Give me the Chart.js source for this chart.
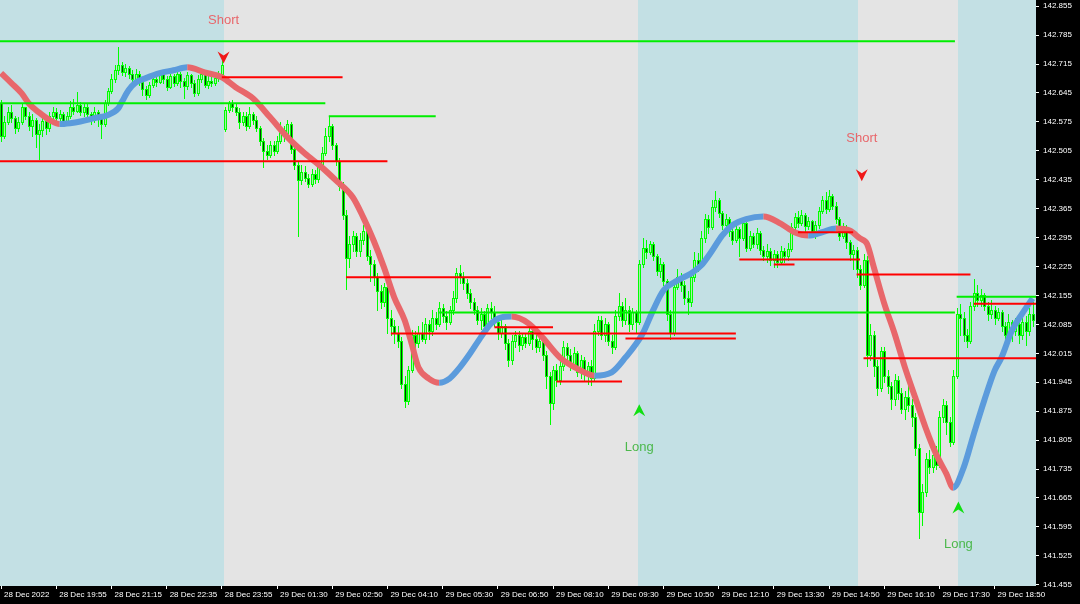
<!DOCTYPE html>
<html>
<head>
<meta charset="utf-8">
<script src="https://cdn.jsdelivr.net/npm/chart.js@4.4.1/dist/chart.umd.min.js"></script>
<style>
  html, body { margin: 0; padding: 0; background: #000; }
  canvas { display: block; }
</style>
</head>
<body>
<canvas id="chart" width="1080" height="604"></canvas>
<script>
// M5 candles, bar 0 = 28 Dec 18:35
const opens = [142.620,142.540,142.575,142.600,142.585,142.560,142.575,142.610,142.590,142.565,142.580,142.545,142.555,142.578,142.560,142.590,142.600,142.585,142.595,142.575,
142.590,142.610,142.602,142.615,142.600,142.612,142.595,142.580,142.600,142.588,142.570,142.620,142.650,142.680,142.700,142.712,142.695,142.705,142.690,142.680,
142.692,142.672,142.655,142.640,142.665,142.680,142.672,142.690,142.678,142.660,142.685,142.670,142.690,142.675,142.662,142.688,142.670,142.645,142.680,142.690,
142.665,142.675,142.668,142.682,142.690,142.558,142.605,142.620,142.612,142.600,142.575,142.590,142.565,142.595,142.580,142.560,142.530,142.505,142.495,142.520,
142.505,142.530,142.555,142.540,142.570,142.510,142.470,142.435,142.455,142.440,142.425,142.450,142.438,142.470,142.500,142.540,142.565,142.520,142.480,142.420,
142.350,142.245,142.280,142.300,142.262,142.290,142.310,142.250,142.230,142.200,142.165,142.140,142.175,142.100,142.080,142.065,142.045,141.940,141.900,141.975,
142.060,142.040,142.065,142.050,142.085,142.070,142.100,142.085,142.125,142.105,142.090,142.120,142.150,142.210,142.200,142.185,142.160,142.140,142.120,142.095,
142.110,142.080,142.125,142.115,142.090,142.065,142.080,142.040,142.000,142.045,142.060,142.035,142.055,142.040,142.070,142.050,142.030,142.045,142.010,141.960,
141.895,141.975,141.950,141.985,142.030,142.010,141.990,142.015,141.970,142.000,141.965,141.985,141.955,142.070,142.095,142.060,142.085,142.045,142.030,142.105,
142.130,142.095,142.120,142.085,142.115,142.090,142.230,142.270,142.260,142.280,142.250,142.215,142.230,142.190,142.110,142.065,142.175,142.200,142.180,142.150,
142.140,142.200,142.240,142.230,142.295,142.340,142.320,142.370,142.385,142.355,142.325,142.340,142.310,142.290,142.315,142.295,142.330,142.270,142.300,142.280,
142.305,142.265,142.250,142.262,142.240,142.255,142.235,142.262,142.250,142.268,142.320,142.345,142.330,142.350,142.322,142.335,142.310,142.325,142.360,142.385,
142.365,142.395,142.372,142.340,142.300,142.320,142.285,142.255,142.265,142.220,142.180,142.240,142.010,142.060,141.985,141.930,142.020,141.960,141.935,141.905,
141.950,141.920,141.880,141.910,141.890,141.860,141.785,141.630,141.680,141.760,141.740,141.770,141.745,141.860,141.890,141.850,141.800,141.960,142.110,142.100,
142.060,142.045,142.130,142.160,142.145,142.155,142.130,142.110,142.120,142.100,142.115,142.080,142.060,142.090,142.070,142.085,142.060,142.090,142.070,142.110];
const highs = [142.628,142.590,142.612,142.615,142.590,142.588,142.620,142.612,142.598,142.595,142.585,142.570,142.590,142.585,142.600,142.612,142.608,142.605,142.600,142.600,
142.625,142.630,142.648,142.622,142.620,142.618,142.600,142.610,142.605,142.595,142.628,142.658,142.690,142.712,142.756,142.720,142.715,142.710,142.700,142.702,
142.698,142.678,142.662,142.672,142.690,142.692,142.700,142.695,142.685,142.692,142.690,142.698,142.695,142.682,142.695,142.692,142.676,142.688,142.698,142.695,
142.685,142.685,142.690,142.698,142.724,142.612,142.626,142.628,142.618,142.608,142.600,142.598,142.612,142.600,142.590,142.565,142.535,142.520,142.530,142.528,
142.540,142.575,142.565,142.580,142.575,142.515,142.480,142.470,142.468,142.450,142.462,142.458,142.480,142.515,142.560,142.590,142.570,142.525,142.488,142.430,
142.362,142.300,142.312,142.305,142.305,142.325,142.315,142.265,142.240,142.210,142.180,142.185,142.180,142.120,142.095,142.080,142.055,141.960,141.985,142.072,
142.070,142.080,142.090,142.100,142.095,142.120,142.115,142.140,142.135,142.118,142.130,142.165,142.222,142.228,142.212,142.195,142.170,142.150,142.130,142.125,
142.118,142.135,142.140,142.130,142.100,142.095,142.085,142.050,142.060,142.070,142.068,142.065,142.062,142.082,142.078,142.060,142.058,142.050,142.020,141.970,
141.985,141.990,142.000,142.045,142.040,142.025,142.030,142.020,142.012,142.005,141.995,141.998,142.085,142.105,142.105,142.100,142.090,142.060,142.120,142.160,
142.140,142.150,142.130,142.125,142.120,142.240,142.295,142.290,142.288,142.285,142.255,142.245,142.235,142.195,142.120,142.185,142.220,142.210,142.190,142.165,
142.210,142.260,142.258,142.310,142.352,142.350,142.385,142.408,142.392,142.360,142.352,142.345,142.320,142.322,142.320,142.340,142.335,142.312,142.305,142.318,
142.310,142.275,142.280,142.270,142.265,142.262,142.275,142.270,142.282,142.330,142.355,142.360,142.362,142.355,142.345,142.338,142.335,142.368,142.395,142.405,
142.410,142.400,142.380,142.345,142.330,142.325,142.290,142.278,142.272,142.228,142.255,142.250,142.085,142.070,142.000,142.030,142.030,141.975,141.945,141.965,
141.960,141.930,141.925,141.935,141.905,141.870,141.795,141.700,141.775,141.780,141.785,141.790,141.875,141.905,141.900,141.860,141.975,142.125,142.135,142.115,
142.075,142.140,142.195,142.180,142.170,142.160,142.140,142.145,142.130,142.125,142.120,142.090,142.110,142.095,142.100,142.092,142.100,142.105,142.125,142.140];
const lows = [142.528,142.535,142.570,142.575,142.548,142.552,142.570,142.582,142.555,142.540,142.515,142.485,142.540,142.545,142.552,142.585,142.578,142.575,142.565,142.570,
142.585,142.595,142.598,142.592,142.590,142.580,142.570,142.575,142.565,142.535,142.565,142.615,142.645,142.672,142.690,142.688,142.685,142.682,142.670,142.675,
142.665,142.640,142.630,142.636,142.660,142.662,142.668,142.670,142.652,142.658,142.662,142.665,142.660,142.632,142.655,142.660,142.638,142.640,142.672,142.660,
142.658,142.662,142.665,142.675,142.685,142.552,142.600,142.602,142.592,142.560,142.568,142.555,142.560,142.570,142.552,142.520,142.465,142.485,142.490,142.495,
142.500,142.525,142.530,142.535,142.500,142.460,142.300,142.425,142.432,142.418,142.420,142.428,142.430,142.462,142.495,142.530,142.510,142.470,142.410,142.340,
142.170,142.225,142.262,142.250,142.250,142.280,142.240,142.190,142.180,142.120,142.125,142.130,142.065,142.060,142.040,142.030,141.930,141.885,141.892,141.970,
142.000,142.030,142.045,142.040,142.050,142.060,142.075,142.080,142.090,142.075,142.085,142.110,142.140,142.185,142.170,142.150,142.125,142.110,142.085,142.075,
142.070,142.070,142.100,142.080,142.050,142.055,142.025,141.985,141.990,142.030,142.020,142.025,142.030,142.035,142.025,142.018,142.020,142.000,141.930,141.845,
141.880,141.935,141.940,141.975,142.000,141.975,141.980,141.960,141.955,141.950,141.940,141.938,141.950,142.060,142.050,142.045,142.035,142.015,142.025,142.095,
142.080,142.085,142.070,142.075,142.065,142.085,142.225,142.245,142.255,142.240,142.205,142.200,142.180,142.095,142.050,142.060,142.170,142.165,142.135,142.110,
142.130,142.190,142.215,142.225,142.285,142.305,142.315,142.360,142.345,142.315,142.310,142.300,142.280,142.285,142.250,142.290,142.262,142.265,142.272,142.270,
142.255,142.240,142.235,142.228,142.225,142.225,142.230,142.235,142.240,142.262,142.312,142.320,142.325,142.310,142.315,142.300,142.295,142.318,142.355,142.355,
142.360,142.365,142.330,142.290,142.295,142.270,142.240,142.220,142.200,142.170,142.175,141.985,142.000,141.960,141.915,141.925,141.945,141.920,141.880,141.890,
141.905,141.870,141.855,141.875,141.840,141.770,141.569,141.600,141.670,141.725,141.728,141.735,141.740,141.850,141.820,141.790,141.795,141.955,142.060,142.045,
142.030,142.040,142.120,142.130,142.130,142.120,142.095,142.100,142.085,142.095,142.070,142.050,142.055,142.045,142.060,142.040,142.050,142.035,142.060,142.080];
const closes = [142.540,142.575,142.600,142.585,142.560,142.575,142.610,142.590,142.565,142.580,142.545,142.555,142.578,142.560,142.590,142.600,142.585,142.595,142.575,142.590,
142.610,142.602,142.615,142.600,142.612,142.595,142.580,142.600,142.588,142.570,142.620,142.650,142.680,142.700,142.712,142.695,142.705,142.690,142.680,142.692,
142.672,142.655,142.640,142.665,142.680,142.672,142.690,142.678,142.660,142.685,142.670,142.690,142.675,142.662,142.688,142.670,142.645,142.680,142.690,142.665,
142.675,142.668,142.682,142.690,142.712,142.605,142.620,142.612,142.600,142.575,142.590,142.565,142.595,142.580,142.560,142.530,142.505,142.495,142.520,142.505,
142.530,142.555,142.540,142.570,142.510,142.470,142.435,142.455,142.440,142.425,142.450,142.438,142.470,142.500,142.540,142.565,142.520,142.480,142.420,142.350,
142.245,142.280,142.300,142.262,142.290,142.310,142.250,142.230,142.200,142.165,142.140,142.175,142.100,142.080,142.065,142.045,141.940,141.900,141.975,142.060,
142.040,142.065,142.050,142.085,142.070,142.100,142.085,142.125,142.105,142.090,142.120,142.150,142.210,142.200,142.185,142.160,142.140,142.120,142.095,142.110,
142.080,142.125,142.115,142.090,142.065,142.080,142.040,142.000,142.045,142.060,142.035,142.055,142.040,142.070,142.050,142.030,142.045,142.010,141.960,141.895,
141.975,141.950,141.985,142.030,142.010,141.990,142.015,141.970,142.000,141.965,141.985,141.955,142.070,142.095,142.060,142.085,142.045,142.030,142.105,142.130,
142.095,142.120,142.085,142.115,142.090,142.230,142.270,142.260,142.280,142.250,142.215,142.230,142.190,142.110,142.065,142.175,142.200,142.180,142.150,142.140,
142.200,142.240,142.230,142.295,142.340,142.320,142.370,142.385,142.355,142.325,142.340,142.310,142.290,142.315,142.295,142.330,142.270,142.300,142.280,142.305,
142.265,142.250,142.262,142.240,142.255,142.235,142.262,142.250,142.268,142.320,142.345,142.330,142.350,142.322,142.335,142.310,142.325,142.360,142.385,142.365,
142.395,142.372,142.340,142.300,142.320,142.285,142.255,142.265,142.220,142.180,142.240,142.010,142.060,141.985,141.930,142.020,141.960,141.935,141.905,141.950,
141.920,141.880,141.910,141.890,141.860,141.785,141.630,141.680,141.760,141.740,141.770,141.745,141.860,141.890,141.850,141.800,141.960,142.110,142.100,142.060,
142.045,142.130,142.160,142.145,142.155,142.130,142.110,142.120,142.100,142.115,142.080,142.060,142.090,142.070,142.085,142.060,142.090,142.070,142.110,142.095];

// smoothed trend line, sampled at these bars
const maBars = [0,3,6,8,11,14,17,20,23,27,31,34,35,37,39,42,46,50,54,59,64,68,73,78,83,88,93,97,102,105,108,111,114,117,119,121,124,127,130,133,136,139,142,145,148,153,157,162,167,172,177,181,186,189,192,196,200,203,206,209,212,216,221,226,230,234,238,242,246,249,251,253,256,259,262,265,268,271,274,276,279,282,285,288,290,293,296,299];
const maValues = [142.693,142.669,142.644,142.620,142.598,142.580,142.570,142.572,142.576,142.584,142.592,142.608,142.623,142.652,142.670,142.681,142.693,142.700,142.707,142.695,
142.683,142.659,142.632,142.586,142.538,142.499,142.465,142.434,142.392,142.344,142.288,142.223,142.150,142.095,142.039,141.981,141.954,141.944,141.954,141.981,
142.015,142.053,142.087,142.102,142.104,142.087,142.053,142.005,141.978,141.961,141.969,142.005,142.063,142.119,142.167,142.191,142.208,142.228,142.262,142.300,
142.325,142.340,142.346,142.329,142.308,142.300,142.308,142.317,142.312,142.293,142.280,142.223,142.136,142.063,141.981,141.908,141.835,141.772,141.724,141.690,
141.738,141.821,141.901,141.973,142.005,142.070,142.111,142.148];

// horizontal levels
const levelPrices = [142.770,142.620,142.589,142.114,142.152,142.683,142.480,142.199,142.063,142.051,142.078,141.947,142.242,142.230,142.308,142.206,142.003,142.135];
const levelFrom   = [-1,-1,95,127,277,64,-1,100,113,181,143,161,214,224,231,248,250,282];
const levelTo     = [276.5,94,126,276.5,301,99,112,142,213,213,160,180,249,230,247,281,301,301];
const levelSide   = ['buy','buy','buy','buy','buy','sell','sell','sell','sell','sell','sell','sell','sell','sell','sell','sell','sell','sell'];

// signals
const sigBars   = [64.5, 249.5, 185, 277.5];
const sigPrices = [142.731, 142.446, 141.877, 141.642];
const sigSide   = ['sell', 'sell', 'buy', 'buy'];
const sigText   = ['Short', 'Short', 'Long', 'Long'];

// session shading: first band blue, then alternating
const sessionBreaks = [64.5, 184.5, 248.5, 277.5];

const tickBars = [0,16,32,48,64,80,96,112,128,144,160,176,192,208,224,240,256,272,288];
const tickLabels = ['28 Dec 2022','28 Dec 19:55','28 Dec 21:15','28 Dec 22:35','28 Dec 23:55','29 Dec 01:30','29 Dec 02:50',
  '29 Dec 04:10','29 Dec 05:30','29 Dec 06:50','29 Dec 08:10','29 Dec 09:30','29 Dec 10:50','29 Dec 12:10','29 Dec 13:30',
  '29 Dec 14:50','29 Dec 16:10','29 Dec 17:30','29 Dec 18:50'];
const priceTicks = [141.455,141.525,141.595,141.665,141.735,141.805,141.875,141.945,142.015,142.085,142.155,
  142.225,142.295,142.365,142.435,142.505,142.575,142.645,142.715,142.785,142.855];

const BAND_BLUE = '#c3e0e4';
const BAND_GREY = '#e4e4e4';
const MA_UP = '#5b9bdc';
const MA_DOWN = '#e8676b';

const backgroundPlugin = {
  id: 'sessions',
  beforeDraw(chart) {
    const { ctx, chartArea: a, scales: { x } } = chart;
    ctx.save();
    ctx.fillStyle = '#000';
    ctx.fillRect(0, 0, chart.width, chart.height);
    const edges = [a.left, ...sessionBreaks.map(b => Math.round(x.getPixelForValue(b))), a.right];
    for (let k = 0; k < edges.length - 1; k++) {
      ctx.fillStyle = k % 2 === 0 ? BAND_BLUE : BAND_GREY;
      ctx.fillRect(edges[k], a.top, edges[k + 1] - edges[k], a.bottom - a.top);
    }
    ctx.restore();
  }
};

const candlePlugin = {
  id: 'candles',
  beforeDatasetsDraw(chart) {
    const { ctx, chartArea: a, scales: { x, y } } = chart;
    ctx.save();
    ctx.beginPath();
    ctx.rect(a.left, a.top, a.right - a.left, a.bottom - a.top);
    ctx.clip();
    for (let i = 0; i < closes.length; i++) {
      const px = Math.round(x.getPixelForValue(i));
      const yh = Math.round(y.getPixelForValue(highs[i]));
      const yl = Math.round(y.getPixelForValue(lows[i]));
      const yo = Math.round(y.getPixelForValue(opens[i]));
      const yc = Math.round(y.getPixelForValue(closes[i]));
      const top = Math.min(yo, yc), bot = Math.max(yo, yc);
      ctx.fillStyle = '#00ff00';
      ctx.fillRect(px, yh, 1, yl - yh + 1);
      ctx.fillRect(px - 1, top, 3, bot - top + 1);
      if (bot - top > 1) {
        ctx.fillStyle = closes[i] >= opens[i] ? '#a8f0a8' : '#0a3a0a';
        ctx.fillRect(px, top + 1, 1, bot - top - 1);
      }
    }
    ctx.restore();
  }
};

const signalPlugin = {
  id: 'signals',
  afterDatasetsDraw(chart) {
    const { ctx, scales: { x, y } } = chart;
    ctx.save();
    ctx.font = '13px "Liberation Sans", Arial, sans-serif';
    ctx.textAlign = 'center';
    ctx.textBaseline = 'middle';
    sigBars.forEach((b, k) => {
      const px = x.getPixelForValue(b);
      const py = y.getPixelForValue(sigPrices[k]);
      const sell = sigSide[k] === 'sell';
      const d = sell ? 1 : -1;
      ctx.fillStyle = sell ? '#f01818' : '#10e010';
      ctx.beginPath();
      ctx.moveTo(px - 6, py - 6 * d);
      ctx.lineTo(px, py + 6 * d);
      ctx.lineTo(px + 6, py - 6 * d);
      ctx.lineTo(px, py - 2 * d);
      ctx.closePath();
      ctx.fill();
      ctx.fillStyle = sell ? '#e8676b' : '#4cb84c';
      ctx.fillText(sigText[k], px, py - 37 * d);
    });
    ctx.restore();
  }
};

const maData = maBars.map((b, i) => ({ x: b, y: maValues[i] }));

const levelSets = levelPrices.map((p, k) => ({
  data: [{ x: levelFrom[k], y: p }, { x: levelTo[k], y: p }],
  borderColor: levelSide[k] === 'buy' ? '#00ee00' : '#ff0000',
  borderWidth: 2,
  pointRadius: 0,
  order: 1
}));

new Chart(document.getElementById('chart'), {
  type: 'line',
  data: {
    datasets: [
      {
        data: maData,
        borderWidth: 6,
        pointRadius: 0,
        cubicInterpolationMode: 'monotone',
        borderCapStyle: 'butt',
        segment: {
          borderColor: c => (c.p1.parsed.y >= c.p0.parsed.y ? MA_UP : MA_DOWN)
        },
        order: 2
      },
      ...levelSets
    ]
  },
  options: {
    responsive: false,
    animation: false,
    devicePixelRatio: 1,
    layout: { padding: 0, autoPadding: false },
    plugins: { legend: { display: false }, tooltip: { enabled: false } },
    scales: {
      x: {
        type: 'linear',
        min: -0.3,
        max: 300,
        border: { display: false },
        grid: { drawOnChartArea: false, tickLength: 3, color: '#ffffff' },
        afterBuildTicks: s => { s.ticks = tickBars.map(v => ({ value: v })); },
        afterFit: s => { s.height = 18; s.paddingLeft = 0; s.paddingRight = 0; },
        ticks: {
          color: '#ffffff',
          font: { family: '"Liberation Sans", Arial, sans-serif', size: 8 },
          align: 'start',
          labelOffset: 3,
          padding: 1,
          maxRotation: 0,
          autoSkip: false,
          callback: v => tickLabels[tickBars.indexOf(v)]
        }
      },
      y: {
        type: 'linear',
        position: 'right',
        min: 141.452,
        max: 142.870,
        border: { display: false },
        grid: { drawOnChartArea: false, tickLength: 3, color: '#ffffff' },
        afterBuildTicks: s => { s.ticks = priceTicks.map(v => ({ value: v })); },
        afterFit: s => { s.width = 44; s.paddingTop = 0; s.paddingBottom = 0; },
        ticks: {
          color: '#ffffff',
          font: { family: '"Liberation Sans", Arial, sans-serif', size: 8 },
          padding: 4,
          autoSkip: false,
          callback: v => v.toFixed(3)
        }
      }
    }
  },
  plugins: [backgroundPlugin, candlePlugin, signalPlugin]
});
</script>
</body>
</html>
